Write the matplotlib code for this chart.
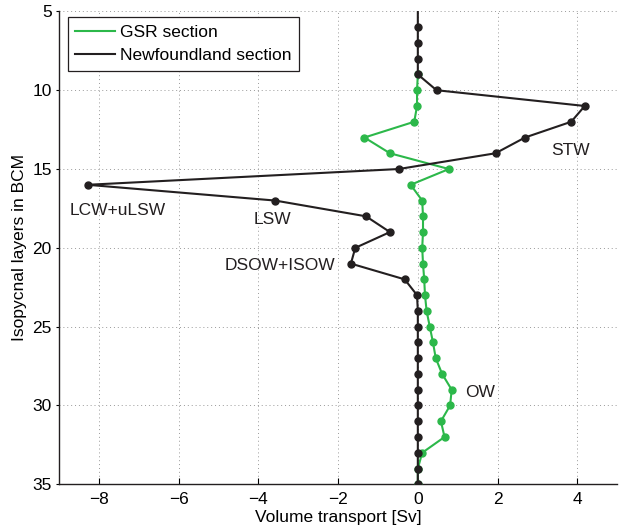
import numpy as np
import matplotlib
matplotlib.use("Agg")
import matplotlib.pyplot as plt
from matplotlib.lines import Line2D

plt.rcParams['font.family'] = ['Liberation Sans', 'DejaVu Sans']
plt.rcParams['font.size'] = 12.5

# Data
nf_layers = list(range(5, 36))
nf_transport = [0, 0, 0, 0, 0, 0.47, 4.19, 3.85, 2.69, 1.95, -0.48, -8.29, -3.58,
                -1.30, -0.70, -1.57, -1.68, -0.33, -0.02, 0, 0, 0, 0, 0, 0, 0, 0, 0, 0, 0, 0]
gsr_layers = list(range(9, 36))
gsr_transport = [0, -0.02, -0.02, -0.09, -1.34, -0.70, 0.78, -0.18, 0.11, 0.13, 0.13,
                 0.11, 0.13, 0.16, 0.18, 0.22, 0.30, 0.38, 0.45, 0.61, 0.85, 0.81, 0.58,
                 0.67, 0.11, 0, 0]
series_names = ["GSR section", "Newfoundland section"]
annotations = [("STW", 3.83, 13.8), ("LCW+uLSW", -7.53, 17.64), ("LSW", -3.65, 18.18),
               ("DSOW+ISOW", -3.45, 21.14), ("OW", 1.56, 29.2)]
xticks = [-8, -6, -4, -2, 0, 2, 4]
yticks = [5, 10, 15, 20, 25, 30, 35]

green = '#2cb84a'
black = '#231f20'

fig = plt.figure(figsize=(6.22, 5.28), dpi=100)
ax = fig.add_axes([0.0953, 0.0828, 0.8967, 0.8956])

ax.plot(gsr_transport, gsr_layers, '-o', color=green, lw=1.5, ms=5, mec=green, zorder=3)
ax.plot(nf_transport, nf_layers, '-o', color=black, lw=1.5, ms=5, mec=black, zorder=4,
        markevery=slice(1, None))

for txt, x, y in annotations:
    ax.text(x, y, txt, ha='center', va='center', fontsize=12.5, color=black)

ax.set_xlim(-9, 5)
ax.set_ylim(35, 5)
ax.set_xticks(xticks)
ax.set_yticks(yticks)
ax.set_xticklabels([str(v).replace('-', '\u2212') for v in xticks])
ax.grid(True, linestyle=(0, (1, 3)), color='#999999', linewidth=0.7)
ax.set_axisbelow(True)

for s in ['top', 'right']:
    ax.spines[s].set_visible(False)
for s in ['left', 'bottom']:
    ax.spines[s].set_linewidth(1.0)
    ax.spines[s].set_color(black)

ax.tick_params(axis='x', direction='in', length=4.3, width=0.8, pad=5.5, labelsize=12.5)
ax.tick_params(axis='y', direction='out', length=2.5, width=0.8, pad=3, labelsize=12.5)

ax.set_xlabel("Volume transport [Sv]", fontsize=12.5, va='center')
ax.xaxis.set_label_coords(0.5, -0.0713)
ax.set_ylabel("Isopycnal layers in BCM", fontsize=12.5, va='center')
ax.yaxis.set_label_coords(-0.0705, 0.5)

handles = [Line2D([], [], color=green, lw=1.5), Line2D([], [], color=black, lw=1.5)]
leg = ax.legend(handles, series_names, loc='upper left', bbox_to_anchor=(0.015, 0.9875),
                borderaxespad=0, fancybox=False, framealpha=1, edgecolor=black,
                handlelength=2.3, handletextpad=0.25, labelspacing=0.45, borderpad=0.45,
                fontsize=12.5)
leg.get_frame().set_linewidth(0.9)

fig.savefig("out.png", dpi=100)
